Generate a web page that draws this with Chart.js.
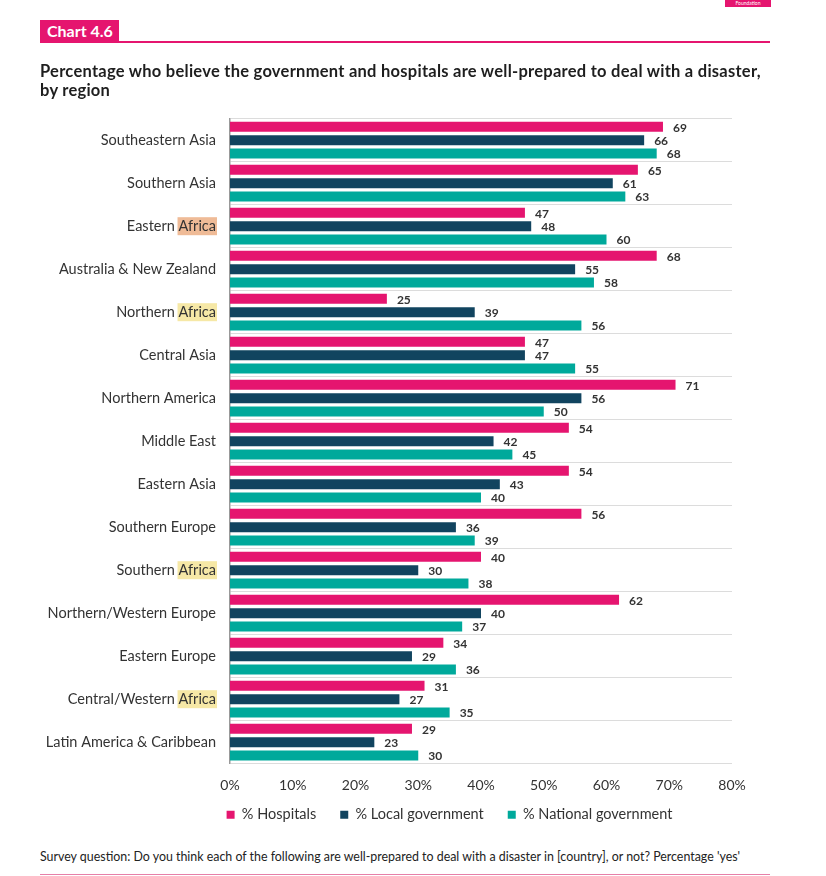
<!DOCTYPE html>
<html><head><meta charset="utf-8">
<script src="https://cdn.jsdelivr.net/npm/chart.js@4/dist/chart.umd.min.js"></script>
<style>
html,body{margin:0;padding:0;background:#fff;width:826px;height:876px;overflow:hidden;position:relative;font-family:Lato,"Noto Sans",sans-serif;}
#brand{position:absolute;left:725px;top:0;width:46px;height:7px;background:#e5156f;color:#fff;font-size:5px;line-height:7px;text-align:center;}
#tag{position:absolute;left:40px;top:20px;height:22px;padding:0 6px 0 7px;background:#e5156f;color:#fff;font-size:16px;line-height:22px;font-weight:700;}
#rule{position:absolute;left:40px;top:41px;width:730px;height:2px;background:#e5156f;}
#title{position:absolute;left:40px;top:62px;width:780px;font-weight:700;font-size:16.5px;line-height:19px;letter-spacing:0.26px;color:#1e1e1e;white-space:nowrap;}
#wrap{position:absolute;left:0;top:96px;width:899px;height:751px;}
#foot{position:absolute;left:40px;top:849px;font-size:12.4px;color:#222;white-space:nowrap;}
#rule2{position:absolute;left:40px;top:874px;width:730px;height:1px;background:#e77fa8;}
</style></head>
<body>
<div id="brand">Foundation</div>
<div id="tag">Chart 4.6</div>
<div id="rule"></div>
<div id="wrap"><canvas id="c" width="899" height="751"></canvas></div>
<div id="title">Percentage who believe the government and hospitals are well-prepared to deal with a disaster,<br>by region</div>
<div id="foot">Survey question: Do you think each of the following are well-prepared to deal with a disaster in [country], or not? Percentage 'yes'</div>
<div id="rule2"></div>
<script>
const categories = ["Southeastern Asia","Southern Asia","Eastern Africa","Australia & New Zealand","Northern Africa","Central Asia","Northern America","Middle East","Eastern Asia","Southern Europe","Southern Africa","Northern/Western Europe","Eastern Europe","Central/Western Africa","Latin America & Caribbean"];
const hospitals   = [69,65,47,68,25,47,71,54,54,56,40,62,34,31,29];
const localGov    = [66,61,48,55,39,47,56,42,43,36,30,40,29,27,23];
const nationalGov = [68,63,60,58,56,55,50,45,40,39,38,37,36,35,30];
const seriesNames = ["% Hospitals","% Local government","% National government"];
const xTickLabels = ["0%","10%","20%","30%","40%","50%","60%","70%","80%"];
const highlightColors = {"Eastern Africa":"#efbb97","Northern Africa":"#f6e8a6","Southern Africa":"#f6e8a6","Central/Western Africa":"#f6e8a6"};

const FONT = "Lato";
const LABEL_PAD = 14;
const LABEL_SIZE = 14.5;

const highlightPlugin = {
  id:"hl",
  afterLayout(chart){
    const lg = chart.legend;
    if(lg){
      lg.left = 0; lg.right = chart.width;
      lg.top -= 15; lg.bottom -= 15;
    }
  },
  beforeDraw(chart){
    const ctx = chart.ctx, ys = chart.scales.y;
    ctx.save();
    ctx.font = LABEL_SIZE + "px " + FONT;
    categories.forEach((c,i)=>{
      if(!highlightColors[c]) return;
      const right = ys.right - LABEL_PAD;
      const w = ctx.measureText("Africa").width;
      const py = ys.getPixelForTick(i);
      ctx.fillStyle = highlightColors[c];
      ctx.fillRect(right - w - 1, py - 9, w + 2, 18);
    });
    ctx.restore();
  }
};
const valuePlugin = {
  id:"vals",
  afterDatasetsDraw(chart){
    const ctx = chart.ctx;
    ctx.save();
    ctx.font = "bold 12px " + FONT;
    ctx.fillStyle = "#333";
    ctx.textBaseline = "middle";
    ctx.textAlign = "left";
    chart.data.datasets.forEach((ds,i)=>{
      chart.getDatasetMeta(i).data.forEach((bar,j)=>{
        ctx.fillText(String(ds.data[j]), bar.x + 10, bar.y + 1);
      });
    });
    ctx.restore();
  }
};

new Chart(document.getElementById("c"), {
  type:"bar",
  data:{
    labels:categories,
    datasets:[
      {label:seriesNames[0], data:hospitals, backgroundColor:"#e5156f"},
      {label:seriesNames[1], data:localGov, backgroundColor:"#11445f"},
      {label:seriesNames[2], data:nationalGov, backgroundColor:"#00a99b"}
    ]
  },
  options:{
    indexAxis:"y",
    responsive:false,
    animation:false,
    datasets:{bar:{categoryPercentage:0.93, barPercentage:0.75}},
    layout:{padding:{top:13,right:167,left:0,bottom:0}},
    scales:{
      x:{
        min:0, max:80,
        ticks:{stepSize:10, callback:(v)=>xTickLabels[Math.round(v/10)], font:{family:FONT,size:14}, color:"#333", padding:5},
        grid:{display:false},
        border:{display:false}
      },
      y:{
        ticks:{font:{family:FONT,size:LABEL_SIZE}, color:"#333", padding:LABEL_PAD, autoSkip:false},
        grid:{color:"#dcdcdc", drawTicks:false, offset:true},
        border:{color:"#999", width:1.5},
        afterFit:(s)=>{s.width = 230;}
      }
    },
    plugins:{
      legend:{
        position:"bottom",
        labels:{boxWidth:8, boxHeight:8, font:{family:FONT,size:14.5}, color:"#333", padding:24}
      },
      tooltip:{enabled:false}
    }
  },
  plugins:[highlightPlugin, valuePlugin]
});
</script>
</body></html>
